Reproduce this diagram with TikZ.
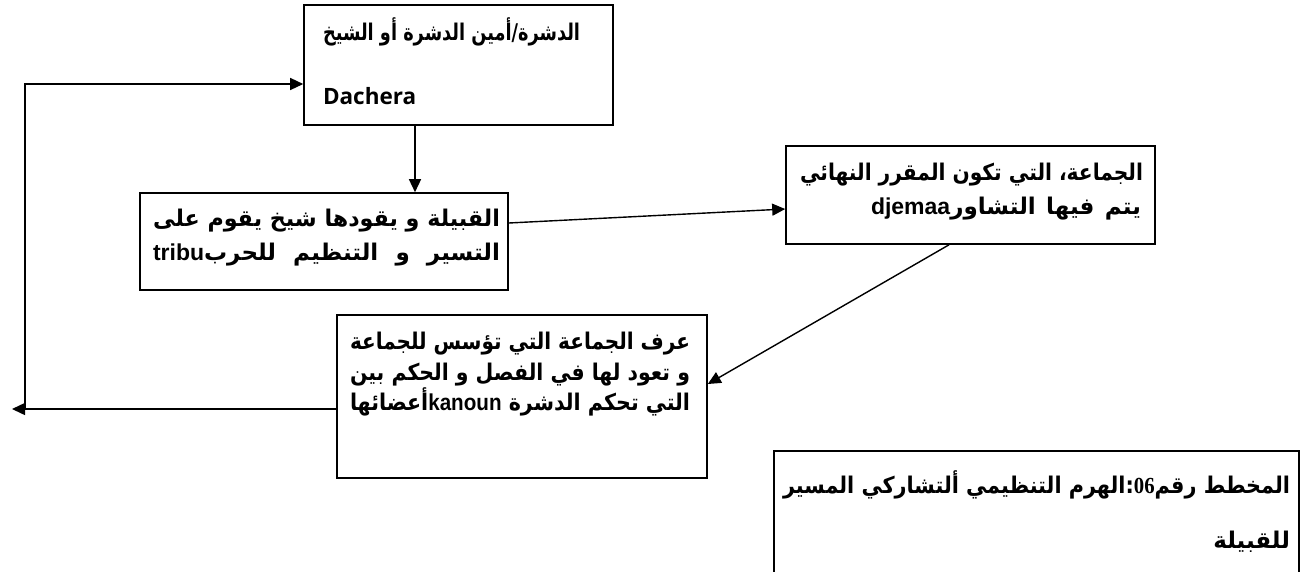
\documentclass[tikz,border=0pt]{standalone}
\usepackage{fontspec}
\usepackage{graphicx}
\usetikzlibrary{arrows.meta}
\TeXXeTstate=1
\newfontfamily\arabicfont[Script=Arabic]{DejaVu Sans}
\newfontfamily\latinfont{Liberation Sans}
\newfontfamily\numfont{Liberation Serif}
\newfontfamily\dachfont{Open Sans}
% a line set to an exact width: spaces stretch when it is short,
% the whole line is narrowed when it is too long
\newsavebox\fitbox
\newcommand{\fitline}[2]{\sbox\fitbox{#2}%
  \ifdim\wd\fitbox>#1\relax\resizebox{#1}{\height}{\usebox\fitbox}%
  \else\hbox to #1{\spaceskip=.3em plus 1fil\relax #2}\fi}
\newcommand{\lat}[1]{\beginL{\latinfont #1}\endL}
\begin{document}
\begin{tikzpicture}[x=1pt,y=-1pt,
  box/.style={draw, line width=1.6pt, inner sep=0pt},
  arr/.style={line width=1.4pt, -{Triangle[length=13pt,width=12pt]}},
  txt/.style={inner sep=0pt, outer sep=0pt},
  ar/.style={txt, font=\arabicfont\fontsize{23}{23}\selectfont\bfseries},
  arbig/.style={txt, font=\arabicfont\fontsize{23}{23}\selectfont\bfseries}]
\useasboundingbox (0,0) rectangle (1306,571);
\clip (0,0) rectangle (1306,571);
\fill[white] (0,0) rectangle (1306,571);

% boxes
\node[box, minimum width=309pt, minimum height=120pt] (b1) at (458.5,65) {};
\node[box, minimum width=368pt, minimum height=97pt] (b2) at (324,241.5) {};
\node[box, minimum width=369pt, minimum height=98pt] (b3) at (970.5,195) {};
\node[box, minimum width=370pt, minimum height=163pt] (b4) at (522,396.5) {};
\node[box, minimum width=525pt, minimum height=150pt, anchor=north west] (b5) at (773,450) {};

% texts of the top box
\node[ar, anchor=base east] (t1a) at (580,40) {\fitline{257pt}{\beginR الدشرة/أمين الدشرة أو الشيخ\endR}};
\node[txt, anchor=base west, font=\dachfont\fontsize{22.5}{22.5}\selectfont\bfseries] (t1b) at (323,104) {Dachera};

% tribe box
\node[ar, anchor=base west] (t2a) at (153,226) {\fitline{347pt}{\beginR القبيلة و يقودها شيخ يقوم على\endR}};
\node[ar, anchor=base west] (t2b) at (153,260) {\fitline{347pt}{\beginR التسير و التنظيم للحرب\lat{tribu}\endR}};

% djemaa box
\node[ar, anchor=base west] (t3a) at (800,180) {\fitline{343pt}{\beginR الجماعة، التي تكون المقرر النهائي\endR}};
\node[ar, anchor=base east] (t3b) at (1141,214) {\fitline{270pt}{\beginR يتم فيها التشاور\lat{djemaa}\endR}};

% kanoun box
\node[ar, anchor=base west] (t4a) at (350,349) {\fitline{340pt}{\beginR عرف الجماعة التي تؤسس للجماعة\endR}};
\node[ar, anchor=base west] (t4b) at (350,380) {\fitline{340pt}{\beginR و تعود لها في الفصل و الحكم بين\endR}};
\node[ar, anchor=base west] (t4c) at (350,410) {\fitline{340pt}{\beginR التي تحكم الدشرة  \lat{kanoun}أعضائها\endR}};

% caption box
\node[arbig, anchor=base west] (t5a) at (783,493) {\fitline{507pt}{\beginR المخطط رقم\beginL{\numfont 06}\endL:الهرم التنظيمي ألتشاركي المسير\endR}};
\node[arbig, anchor=base east] (t5b) at (1290,548) {\beginR للقبيلة\endR};

% connectors
\draw[arr] ([xshift=-43.5pt]b1.south) -- ([xshift=-43.5pt]b1.south |- b2.north);
\draw[arr] ([yshift=18.5pt]b2.east) -- ([yshift=-14pt]b3.west);
\draw[arr] ([xshift=-21.5pt]b3.south) -- ([yshift=12.5pt]b4.east);
\coordinate (lt) at (12,409);
\coordinate (lc) at (25,409);
\draw[arr] ([yshift=-12.5pt]b4.west) -- (lt);
\draw[arr] (lc) |- ([yshift=-19pt]b1.west);
\end{tikzpicture}
\end{document}
